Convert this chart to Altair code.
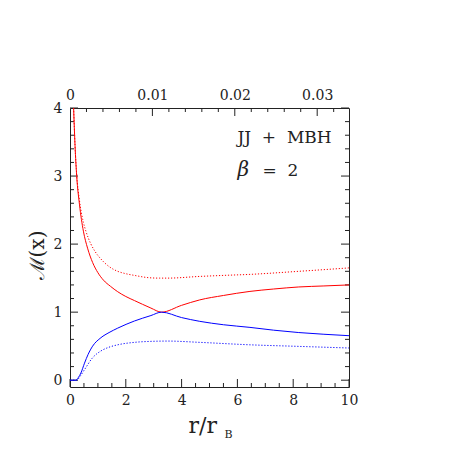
import altair as alt
import pandas as pd

# ---- data ----
red_solid_x = [0.13, 0.18, 0.24, 0.34, 0.48, 0.63, 0.81, 1.0, 1.2, 1.45, 1.71, 2.0, 2.31, 2.6, 2.9, 3.28, 4.0, 4.65, 5.5, 6.45, 7.3, 8.2, 9.1, 10]
red_solid_y = [4.0, 3.45, 3.0, 2.58, 2.19, 1.94, 1.73, 1.58, 1.47, 1.38, 1.30, 1.23, 1.17, 1.115, 1.06, 1.0, 1.10, 1.18, 1.245, 1.305, 1.34, 1.37, 1.385, 1.40]

red_dot_x = [0.13, 0.18, 0.24, 0.34, 0.48, 0.57, 0.75, 0.9, 1.11, 1.4, 1.71, 2.0, 2.31, 2.86, 3.2, 3.5, 4.65, 5.5, 6.45, 8.2, 10]
red_dot_y = [4.0, 3.45, 3.02, 2.64, 2.32, 2.19, 2.0, 1.89, 1.78, 1.67, 1.60, 1.565, 1.54, 1.505, 1.50, 1.50, 1.525, 1.54, 1.555, 1.60, 1.65]

blue_solid_x = [0, 0.21, 0.3, 0.39, 0.52, 0.65, 0.81, 1.11, 1.4, 1.71, 2.31, 2.9, 3.28, 4.0, 4.65, 5.5, 6.45, 7.3, 8.2, 9.1, 10]
blue_solid_y = [0, 0, 0.04, 0.105, 0.25, 0.38, 0.50, 0.625, 0.70, 0.765, 0.87, 0.95, 1.0, 0.92, 0.865, 0.815, 0.776, 0.735, 0.70, 0.675, 0.654]

blue_dot_x = [0, 0.25, 0.35, 0.52, 0.81, 1.11, 1.4, 1.71, 2.31, 2.86, 3.5, 4.65, 6.45, 8.2, 10]
blue_dot_y = [0, 0, 0.05, 0.155, 0.33, 0.43, 0.485, 0.52, 0.556, 0.57, 0.575, 0.556, 0.52, 0.497, 0.473]

bottom_major = [0, 2, 4, 6, 8, 10]
bottom_minor = [0.5, 1, 1.5, 2.5, 3, 3.5, 4.5, 5, 5.5, 6.5, 7, 7.5, 8.5, 9, 9.5]
top_labels = [0, 0.01, 0.02, 0.03]
top_major = [0.01, 0.02, 0.03]
top_minor = [0.002, 0.004, 0.006, 0.008, 0.012, 0.014, 0.016, 0.018, 0.022, 0.024, 0.026, 0.028, 0.032]
y_major = [0, 1, 2, 3, 4]
y_minor = [0.2, 0.4, 0.6, 0.8, 1.2, 1.4, 1.6, 1.8, 2.2, 2.4, 2.6, 2.8, 3.2, 3.4, 3.6, 3.8]

label_x = [6.0]
label_jj_y = [3.49]
label_beta_y = [2.995]
eq_x = [6.9]

W = H = 279
FONT = "DejaVu Serif"
INK = "#222222"
MAJ, MIN = 8, 4

xs = alt.Scale(domain=[0, 10], nice=False, zero=False)
ys = alt.Scale(domain=[-0.1, 4], nice=False, zero=False)
ts = alt.Scale(domain=[0, 0.03386], nice=False, zero=False)


def df(v):
    return pd.DataFrame({"v": v})


def curve(xv, yv, color, dash=None):
    kw = dict(color=color, strokeWidth=1, interpolate="monotone", clip=True)
    if dash:
        kw["strokeDash"] = dash
    return alt.Chart(pd.DataFrame({"x": xv, "y": yv})).mark_line(**kw).encode(
        x=alt.X("x:Q", scale=xs, axis=None),
        y=alt.Y("y:Q", scale=ys, axis=None),
    )


# left y ticks carry the y axis labels/title
y_left_major = alt.Chart(df(y_major)).mark_rule(color=INK, strokeWidth=1).encode(
    y=alt.Y("v:Q", scale=ys, axis=alt.Axis(
        orient="left", values=y_major, ticks=False, domain=False, grid=False, labelFlush=False,
        labelPadding=8, labelFont=FONT, labelFontSize=14, labelColor=INK,
        title="ℳ(x)", titleFont=FONT, titleFontSize=20, titleFontWeight="normal",
        titleColor=INK, titleAngle=270, titleX=-33, titleY=147,
        titleAlign="center", titleBaseline="middle")),
    x=alt.value(0), x2=alt.value(MAJ))
y_left_minor = alt.Chart(df(y_minor)).mark_rule(color=INK, strokeWidth=1).encode(
    y=alt.Y("v:Q", scale=ys, axis=None), x=alt.value(0), x2=alt.value(MIN))
y_right_major = alt.Chart(df(y_major)).mark_rule(color=INK, strokeWidth=1).encode(
    y=alt.Y("v:Q", scale=ys, axis=None), x=alt.value(W), x2=alt.value(W - MAJ))
y_right_minor = alt.Chart(df(y_minor)).mark_rule(color=INK, strokeWidth=1).encode(
    y=alt.Y("v:Q", scale=ys, axis=None), x=alt.value(W), x2=alt.value(W - MIN))

x_bot_major = alt.Chart(df(bottom_major)).mark_rule(color=INK, strokeWidth=1).encode(
    x=alt.X("v:Q", scale=xs, axis=alt.Axis(
        orient="bottom", values=bottom_major, ticks=False, domain=False, grid=False,
        labelFlush=False, labelPadding=6, labelFont=FONT, labelFontSize=14, labelColor=INK,
        title="r/r", titleFont=FONT, titleFontSize=22, titleFontWeight="normal",
        titleColor=INK, titleX=118, titleY=45, titleAlign="left", titleBaseline="alphabetic")),
    y=alt.value(H), y2=alt.value(H - MAJ))
x_bot_minor = alt.Chart(df(bottom_minor)).mark_rule(color=INK, strokeWidth=1).encode(
    x=alt.X("v:Q", scale=xs, axis=None), y=alt.value(H), y2=alt.value(H - MIN))
x_sub = alt.Chart(df(bottom_major)).mark_rule(opacity=0).encode(
    x=alt.X("v:Q", scale=xs, axis=alt.Axis(
        orient="bottom", labels=False, ticks=False, domain=False, grid=False,
        title="B", titleFont=FONT, titleFontSize=11, titleFontWeight="normal",
        titleColor=INK, titleX=154, titleY=50, titleAlign="left", titleBaseline="alphabetic")),
    y=alt.value(H), y2=alt.value(H))

x_top_major = alt.Chart(df(top_major)).mark_rule(color=INK, strokeWidth=1).encode(
    x=alt.X("v:Q", scale=ts, axis=alt.Axis(
        orient="top", values=top_labels, format=".2~f", ticks=False, domain=False, grid=False,
        labelFlush=False, labelPadding=6, labelFont=FONT, labelFontSize=14, labelColor=INK,
        title=None)),
    y=alt.value(0), y2=alt.value(MAJ))
x_top_minor = alt.Chart(df(top_minor)).mark_rule(color=INK, strokeWidth=1).encode(
    x=alt.X("v:Q", scale=ts, axis=None), y=alt.value(0), y2=alt.value(MIN))

txt_jj = alt.Chart(pd.DataFrame({"x": label_x, "y": label_jj_y, "t": ["JJ\u00a0\u00a0+\u00a0\u00a0MBH"]})).mark_text(
    font=FONT, fontSize=17, color=INK, align="left", baseline="alphabetic").encode(
    x=alt.X("x:Q", scale=xs, axis=None), y=alt.Y("y:Q", scale=ys, axis=None), text="t:N")
txt_beta = alt.Chart(pd.DataFrame({"x": label_x, "y": label_beta_y, "t": ["β"]})).mark_text(
    font=FONT, fontSize=20, fontStyle="italic", color=INK, align="left", baseline="alphabetic").encode(
    x=alt.X("x:Q", scale=xs, axis=None), y=alt.Y("y:Q", scale=ys, axis=None), text="t:N")
txt_eq = alt.Chart(pd.DataFrame({"x": eq_x, "y": label_beta_y, "t": ["=\u00a0\u00a02"]})).mark_text(
    font=FONT, fontSize=17, color=INK, align="left", baseline="alphabetic").encode(
    x=alt.X("x:Q", scale=xs, axis=None), y=alt.Y("y:Q", scale=ys, axis=None), text="t:N")

chart = alt.layer(
    y_left_major, y_left_minor, y_right_major, y_right_minor,
    x_bot_major, x_bot_minor, x_sub, x_top_major, x_top_minor,
    curve(red_dot_x, red_dot_y, "#ff0000", [1.2, 1.8]),
    curve(blue_dot_x, blue_dot_y, "#0000ff", [1.2, 1.8]),
    curve(red_solid_x, red_solid_y, "#ff0000"),
    curve(blue_solid_x, blue_solid_y, "#0000ff"),
    txt_jj, txt_beta, txt_eq,
).resolve_scale(x="independent").resolve_axis(y="independent").properties(
    width=W, height=H,
    autosize=alt.AutoSizeParams(type="none"),
    padding={"left": 62, "top": 100, "right": 90, "bottom": 60},
).configure_view(stroke=INK, strokeWidth=1)

chart.save("out.html", embed_options={"renderer": "svg", "actions": False})
